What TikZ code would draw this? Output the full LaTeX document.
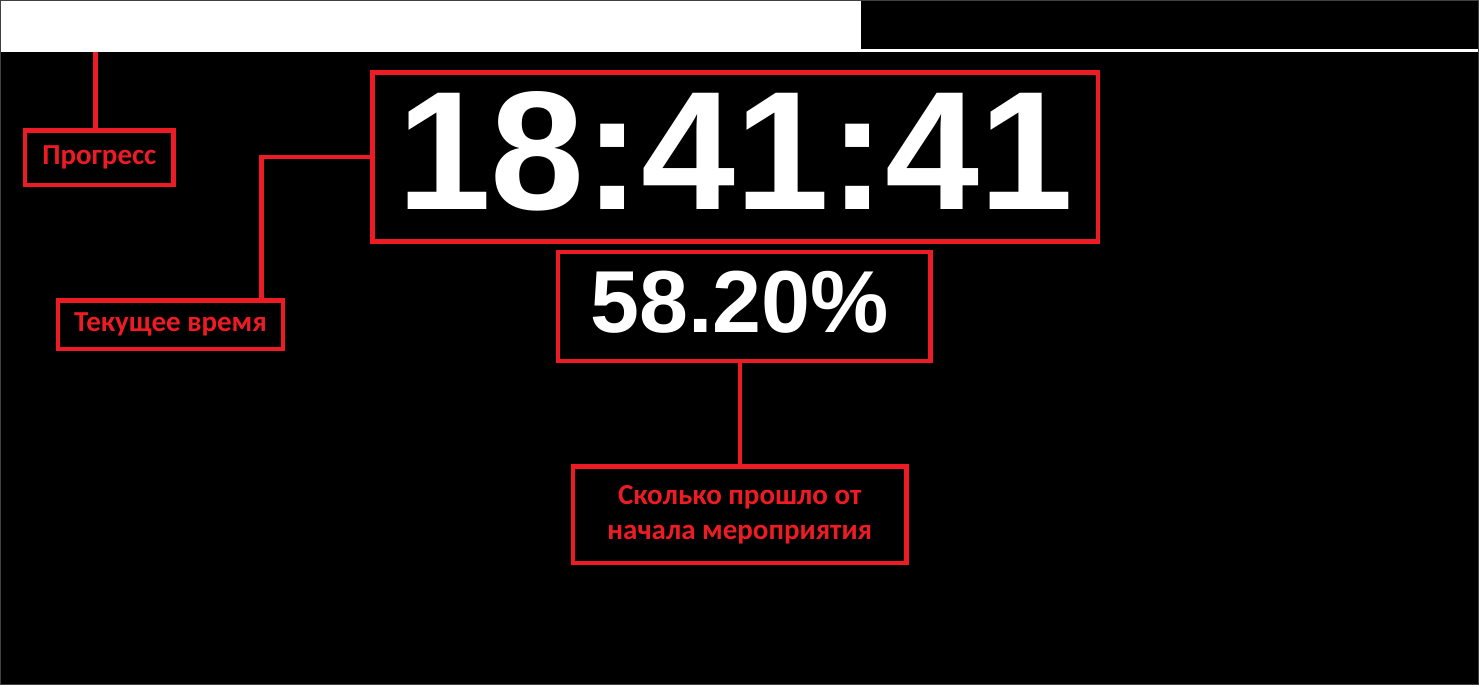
\documentclass[tikz,border=0pt]{standalone}
\usepackage{fontspec}
\setmainfont{Carlito}
\newfontfamily\clockfont{Liberation Sans}
\usetikzlibrary{positioning}
\definecolor{notered}{HTML}{ED1C24}
\definecolor{framegray}{HTML}{404040}

\begin{document}
\begin{tikzpicture}[x=1pt, y=-1pt,
    callout/.style={draw=notered, line width=4.8pt, text=notered, align=center,
      inner sep=0pt, font=\bfseries\fontsize{29}{35.5}\selectfont},
    readout/.style={draw=notered, line width=4.8pt, text=white, inner sep=0pt},
    link/.style={draw=notered, line width=4.5pt}]
    \useasboundingbox (0,0) rectangle (1479,685);
    \fill[black] (0,0) rectangle (1479,685);
    % progress bar and its track
    \node[fill=white, inner sep=0pt, anchor=north west,
      minimum width=860.5pt, minimum height=51.7pt] (bar) at (0,0) {};
    \fill[white] (bar.south east) rectangle ++(617.5,-2.7);
    % readouts
    \node[readout, minimum width=725.5pt, minimum height=169pt, text depth=13pt,
      font=\clockfont\bfseries\fontsize{169}{169}\selectfont] (clock) at (735.25,157) {18:41:41};
    \node[readout, minimum width=372.5pt, minimum height=109pt, text depth=10pt,
      font=\clockfont\bfseries\fontsize{88}{88}\selectfont] (share) at (744.25,306.5) {58.20\%\hspace*{9pt}};
    % callouts
    \node[callout, minimum width=148.5pt, minimum height=54.5pt] (progress) at (99.25,157.75) {Прогресс};
    \node[callout, minimum width=225pt, minimum height=48.5pt] (now) at (170.5,324.75) {Текущее время};
    \node[callout, minimum width=333.5pt, minimum height=96.5pt] (elapsed) at (739.75,514.75)
      {Сколько прошло от\\начала мероприятия};
    \draw[link] ([xshift=-4pt]progress.north) -- ([xshift=-4pt]progress.north |- bar.south);
    \draw[link] (clock.west) -| ([xshift=91pt]now.north);
    \draw[link] (elapsed.north |- share.south) -- (elapsed.north);
    \draw[framegray, line width=1pt] (0.5,0.5) rectangle (1478.5,684.5);
  \end{tikzpicture}
\end{document}
